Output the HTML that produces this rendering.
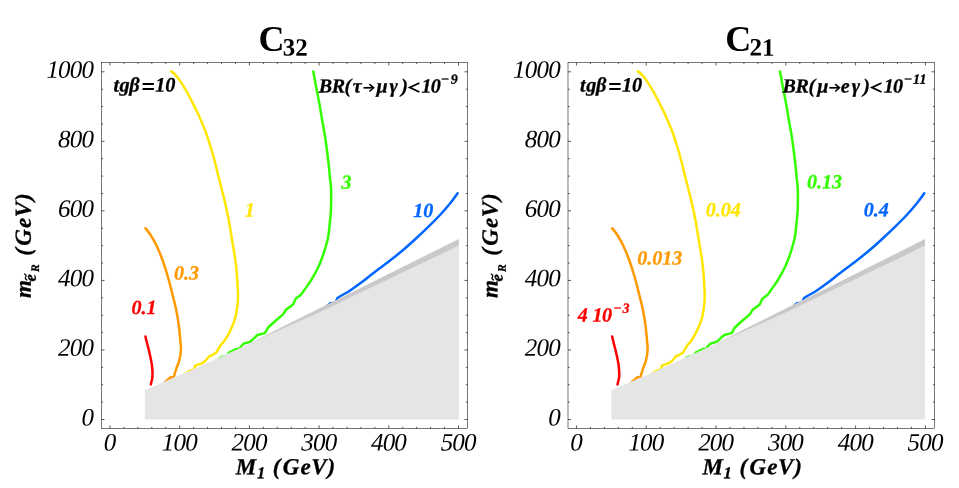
<!DOCTYPE html>
<html><head><meta charset="utf-8"><title>C32 C21</title>
<style>html,body{margin:0;padding:0;background:#fff}body{width:959px;height:488px;overflow:hidden;font-family:"Liberation Serif",serif}svg{display:block;will-change:transform;font-family:"Liberation Serif",serif}text{font-family:"Liberation Serif",serif}</style>
</head><body>
<svg width="959" height="488" viewBox="0 0 959 488">
<rect width="959" height="488" fill="#fff"/>
<g fill="none" stroke-width="2.5" stroke-linecap="round" stroke-linejoin="round">
<path stroke="#ffe600" d="M171.20 71.30C171.87 71.87 173.67 73.02 175.20 74.70C176.73 76.38 178.68 78.92 180.40 81.40C182.12 83.88 183.80 86.70 185.50 89.60C187.20 92.50 188.90 95.55 190.60 98.80C192.30 102.05 194.37 106.40 195.70 109.10C197.03 111.80 197.05 111.52 198.60 115.00C200.15 118.48 203.10 125.00 205.00 130.00C206.90 135.00 208.43 140.00 210.00 145.00C211.57 150.00 213.05 155.00 214.40 160.00C215.75 165.00 216.85 170.00 218.10 175.00C219.35 180.00 220.65 185.00 221.90 190.00C223.15 195.00 224.46 200.00 225.60 205.00C226.74 210.00 227.81 215.00 228.75 220.00C229.69 225.00 230.42 230.00 231.25 235.00C232.08 240.00 232.96 245.00 233.75 250.00C234.54 255.00 235.42 260.00 236.00 265.00C236.58 270.00 236.92 275.00 237.25 280.00C237.58 285.00 237.96 290.83 238.00 295.00C238.04 299.17 238.00 301.04 237.50 305.00C237.00 308.96 236.25 314.38 235.00 318.75C233.75 323.12 231.67 327.71 230.00 331.25C228.33 334.79 226.67 337.50 225.00 340.00C223.33 342.50 221.46 344.17 220.00 346.25C218.54 348.33 217.50 351.04 216.25 352.50L212.50 355.00L209.40 356.25L205.00 361.25L202.50 363.10L195.00 365.60L194.60 369.40L190.00 370.60L184.40 374.50L180.00 378.00"/>
<path stroke="#ff9900" d="M145.50 228.20C146.35 229.33 148.81 232.20 150.60 235.00C152.39 237.80 154.27 240.83 156.25 245.00C158.23 249.17 160.53 254.58 162.50 260.00C164.47 265.42 166.42 271.67 168.10 277.50C169.78 283.33 171.24 289.58 172.60 295.00C173.96 300.42 175.22 305.00 176.25 310.00C177.28 315.00 178.08 320.00 178.75 325.00C179.42 330.00 179.89 335.83 180.25 340.00C180.61 344.17 181.04 346.67 180.90 350.00C180.76 353.33 180.18 356.88 179.40 360.00C178.62 363.12 177.19 365.93 176.25 368.75L173.75 376.90L170.60 377.25L165.50 381.70L163.00 384.50"/>
<path stroke="#ff0000" d="M145.45 336.50C145.58 337.08 145.59 337.33 146.25 340.00C146.91 342.67 148.46 348.33 149.40 352.50C150.34 356.67 151.38 361.04 151.90 365.00C152.42 368.96 152.68 373.02 152.50 376.25C152.32 379.48 151.08 383.04 150.80 384.40"/>
<path stroke="#33ff00" d="M313.30 71.50C313.79 74.17 315.23 82.12 316.25 87.50C317.27 92.88 318.42 98.33 319.40 103.75C320.38 109.17 321.17 114.58 322.10 120.00C323.03 125.42 324.14 130.83 325.00 136.25C325.86 141.67 326.58 147.29 327.25 152.50C327.92 157.71 328.56 163.33 329.00 167.50C329.44 171.67 329.57 174.17 329.90 177.50C330.23 180.83 330.78 183.75 331.00 187.50C331.22 191.25 331.23 195.83 331.20 200.00C331.17 204.17 331.07 208.33 330.80 212.50C330.53 216.67 329.98 221.25 329.60 225.00C329.22 228.75 328.95 232.08 328.50 235.00C328.05 237.92 327.80 239.17 326.90 242.50C326.00 245.83 324.57 250.83 323.10 255.00C321.63 259.17 320.08 263.33 318.10 267.50C316.12 271.67 313.43 276.42 311.25 280.00C309.07 283.58 306.67 286.60 305.00 289.00L301.25 294.40L295.60 298.75L293.10 304.40L286.25 309.40L283.10 314.40L275.00 321.25L268.10 327.50L265.00 333.10L257.50 335.00L250.00 341.90L243.75 343.50L240.60 347.00L239.30 350.30L237.60 348.70L233.00 350.50L229.00 352.70L227.30 355.50L224.50 356.30L221.00 357.30L218.00 359.50L215.00 362.00"/>
<path stroke="#0066ff" d="M457.60 193.20C456.33 194.92 452.93 199.87 450.00 203.50C447.07 207.13 443.75 210.97 440.00 215.00C436.25 219.03 431.77 223.53 427.50 227.70C423.23 231.87 418.47 236.28 414.40 240.00C410.33 243.72 407.17 246.57 403.10 250.00C399.03 253.43 394.17 257.33 390.00 260.60C385.83 263.87 381.07 267.37 378.10 269.60C375.13 271.83 374.88 271.92 372.20 274.00C369.52 276.08 365.80 279.27 362.00 282.10C358.20 284.93 353.53 288.32 349.40 291.00C345.27 293.68 339.45 296.33 337.20 298.20L335.90 302.20L332.80 303.10L330.00 303.30L327.50 305.60L324.00 309.00"/>
</g>
<polygon fill="#c9c9c9" points="250.00,343.20 280.00,328.10 310.00,313.10 360.00,288.20 410.00,263.30 458.90,239.00 458.90,250.00 250.00,346.00"/>
<polygon fill="#e5e5e5" points="144.80,390.30 200.00,366.30 260.00,338.80 310.00,316.60 324.40,310.00 360.00,292.80 386.90,280.00 410.00,268.75 429.40,259.80 458.90,245.60 458.90,419.40 144.80,419.40"/>
<rect x="101.50" y="62.50" width="366.00" height="365.90" fill="none" stroke="#000" stroke-width="0.53"/>
<path d="M110.00 428.40v-3.00M110.00 62.50v3.00M123.94 428.40v-1.60M123.94 62.50v1.60M137.88 428.40v-1.60M137.88 62.50v1.60M151.82 428.40v-1.60M151.82 62.50v1.60M165.76 428.40v-1.60M165.76 62.50v1.60M179.70 428.40v-3.00M179.70 62.50v3.00M193.64 428.40v-1.60M193.64 62.50v1.60M207.58 428.40v-1.60M207.58 62.50v1.60M221.52 428.40v-1.60M221.52 62.50v1.60M235.46 428.40v-1.60M235.46 62.50v1.60M249.40 428.40v-3.00M249.40 62.50v3.00M263.34 428.40v-1.60M263.34 62.50v1.60M277.28 428.40v-1.60M277.28 62.50v1.60M291.22 428.40v-1.60M291.22 62.50v1.60M305.16 428.40v-1.60M305.16 62.50v1.60M319.10 428.40v-3.00M319.10 62.50v3.00M333.04 428.40v-1.60M333.04 62.50v1.60M346.98 428.40v-1.60M346.98 62.50v1.60M360.92 428.40v-1.60M360.92 62.50v1.60M374.86 428.40v-1.60M374.86 62.50v1.60M388.80 428.40v-3.00M388.80 62.50v3.00M402.74 428.40v-1.60M402.74 62.50v1.60M416.68 428.40v-1.60M416.68 62.50v1.60M430.62 428.40v-1.60M430.62 62.50v1.60M444.56 428.40v-1.60M444.56 62.50v1.60M458.50 428.40v-3.00M458.50 62.50v3.00M101.50 419.50h3.00M467.50 419.50h-3.00M101.50 402.12h1.60M467.50 402.12h-1.60M101.50 384.73h1.60M467.50 384.73h-1.60M101.50 367.35h1.60M467.50 367.35h-1.60M101.50 349.96h3.00M467.50 349.96h-3.00M101.50 332.57h1.60M467.50 332.57h-1.60M101.50 315.19h1.60M467.50 315.19h-1.60M101.50 297.81h1.60M467.50 297.81h-1.60M101.50 280.42h3.00M467.50 280.42h-3.00M101.50 263.03h1.60M467.50 263.03h-1.60M101.50 245.65h1.60M467.50 245.65h-1.60M101.50 228.26h1.60M467.50 228.26h-1.60M101.50 210.88h3.00M467.50 210.88h-3.00M101.50 193.50h1.60M467.50 193.50h-1.60M101.50 176.11h1.60M467.50 176.11h-1.60M101.50 158.72h1.60M467.50 158.72h-1.60M101.50 141.34h3.00M467.50 141.34h-3.00M101.50 123.95h1.60M467.50 123.95h-1.60M101.50 106.57h1.60M467.50 106.57h-1.60M101.50 89.19h1.60M467.50 89.19h-1.60M101.50 71.80h3.00M467.50 71.80h-3.00" stroke="#000" stroke-width="0.65" fill="none"/>
<g font-style="italic" font-size="25" letter-spacing="-0.8">
<text x="109.70" y="450.6" text-anchor="middle" transform="rotate(0.05 109.70 450.6)">0</text>
<text x="179.40" y="450.6" text-anchor="middle" transform="rotate(0.05 179.40 450.6)">100</text>
<text x="249.10" y="450.6" text-anchor="middle" transform="rotate(0.05 249.10 450.6)">200</text>
<text x="318.80" y="450.6" text-anchor="middle" transform="rotate(0.05 318.80 450.6)">300</text>
<text x="388.50" y="450.6" text-anchor="middle" transform="rotate(0.05 388.50 450.6)">400</text>
<text x="458.20" y="450.6" text-anchor="middle" transform="rotate(0.05 458.20 450.6)">500</text>
<text x="93.20" y="425.40" text-anchor="end" transform="rotate(0.05 93.20 425.40)">0</text>
<text x="93.20" y="355.86" text-anchor="end" transform="rotate(0.05 93.20 355.86)">200</text>
<text x="93.20" y="286.32" text-anchor="end" transform="rotate(0.05 93.20 286.32)">400</text>
<text x="93.20" y="216.78" text-anchor="end" transform="rotate(0.05 93.20 216.78)">600</text>
<text x="93.20" y="147.24" text-anchor="end" transform="rotate(0.05 93.20 147.24)">800</text>
<text x="93.20" y="77.70" text-anchor="end" transform="rotate(0.05 93.20 77.70)">1000</text>
</g>
<text x="258.60" y="50.8" font-weight="bold" font-size="36" transform="rotate(0.05 258.60 51)">C<tspan font-size="25" dy="4.8" dx="-1.8">32</tspan></text>
<g font-weight="bold" font-style="italic" stroke="#000" stroke-width="0.3">
<text x="235.71" y="474.30" font-size="23" transform="rotate(0.05 235.71 474.30)">M</text>
<text x="256.92" y="478.20" font-size="16.5" transform="rotate(0.05 256.92 478.20)">1</text>
<text x="272.81 282.83 300.58 311.18 327.57" y="474.30" font-size="23" transform="rotate(0.05 272.81 474.30)">(GeV)</text>
<g transform="translate(30.70,298) rotate(-90)"><text x="-0.01" y="0.00" font-size="23" transform="rotate(0.05 -0.01 0.00)">m</text><text x="16.48" y="5.10" font-size="16.5" transform="rotate(0.05 16.48 5.10)">e</text><path d="M18 -3.8q1.3 -2.4 3 -1.2t3 -1.2" stroke="#000" stroke-width="1.3" fill="none" stroke-linecap="round"/><text x="26.09" y="8.30" font-size="11.5" transform="rotate(0.05 26.09 8.30)">R</text><text x="42.31 52.33 70.08 80.68 97.07" y="0.00" font-size="23" transform="rotate(0.05 42.31 0.00)">(GeV)</text></g>
<text x="113.42 119.58 129.32 155.31 165.30" y="91.50" font-size="20.3" transform="rotate(0.05 113.42 91.50)">tgβ10</text>
<path d="M142.60 83h11.3v2h-11.3zM142.60 88h11.3v2h-11.3z" stroke="none"/>
<text x="318.74 331.78 344.38 352.70" y="92.40" font-size="20" transform="rotate(0.05 318.74 92.40)">BR(τ</text><path d="M363.50 87.80H373.20" stroke="#000" stroke-width="1.7" fill="none"/><path d="M369.40 84.10L373.60 87.80L369.40 91.50" stroke="#000" stroke-width="1.6" fill="none" stroke-linejoin="miter"/><text x="376.59 389.39 401.21 421.48 430.83" y="92.40" font-size="20" transform="rotate(0.05 376.59 92.40)">μγ)10</text><text x="440.84 450.72" y="83.80" font-size="14" transform="rotate(0.05 440.84 83.80)">−9</text><path d="M419.40 83L409.80 87.5L419.40 92" fill="none" stroke="#000" stroke-width="1.9" stroke-linejoin="miter"/>
<text x="131.60" y="314.10" font-size="20" fill="#ff0000" stroke="#ff0000" transform="rotate(0.05 131.60 314.10)">0.1</text>
<text x="174.10" y="279.40" font-size="20" fill="#ff9900" stroke="#ff9900" transform="rotate(0.05 174.10 279.40)">0.3</text>
<text x="244.70" y="216.50" font-size="20" fill="#ffe600" stroke="#ffe600" transform="rotate(0.05 244.70 216.50)">1</text>
<text x="341.60" y="188.75" font-size="20" fill="#33ff00" stroke="#33ff00" transform="rotate(0.05 341.60 188.75)">3</text>
<text x="413.30" y="216.90" font-size="20" fill="#0066ff" stroke="#0066ff" transform="rotate(0.05 413.30 216.90)">10</text>
</g>
<g fill="none" stroke-width="2.5" stroke-linecap="round" stroke-linejoin="round">
<path stroke="#ffe600" d="M637.90 71.30C638.57 71.87 640.37 73.02 641.90 74.70C643.43 76.38 645.38 78.92 647.10 81.40C648.82 83.88 650.50 86.70 652.20 89.60C653.90 92.50 655.60 95.55 657.30 98.80C659.00 102.05 661.07 106.40 662.40 109.10C663.73 111.80 663.75 111.52 665.30 115.00C666.85 118.48 669.80 125.00 671.70 130.00C673.60 135.00 675.13 140.00 676.70 145.00C678.27 150.00 679.75 155.00 681.10 160.00C682.45 165.00 683.55 170.00 684.80 175.00C686.05 180.00 687.35 185.00 688.60 190.00C689.85 195.00 691.16 200.00 692.30 205.00C693.44 210.00 694.51 215.00 695.45 220.00C696.39 225.00 697.12 230.00 697.95 235.00C698.78 240.00 699.66 245.00 700.45 250.00C701.24 255.00 702.12 260.00 702.70 265.00C703.28 270.00 703.62 275.00 703.95 280.00C704.28 285.00 704.66 290.83 704.70 295.00C704.74 299.17 704.70 301.04 704.20 305.00C703.70 308.96 702.95 314.38 701.70 318.75C700.45 323.12 698.37 327.71 696.70 331.25C695.03 334.79 693.37 337.50 691.70 340.00C690.03 342.50 688.16 344.17 686.70 346.25C685.24 348.33 684.20 351.04 682.95 352.50L679.20 355.00L676.10 356.25L671.70 361.25L669.20 363.10L661.70 365.60L661.30 369.40L656.70 370.60L651.10 374.50L646.70 378.00"/>
<path stroke="#ff9900" d="M612.20 228.20C613.05 229.33 615.51 232.20 617.30 235.00C619.09 237.80 620.97 240.83 622.95 245.00C624.93 249.17 627.23 254.58 629.20 260.00C631.18 265.42 633.12 271.67 634.80 277.50C636.48 283.33 637.94 289.58 639.30 295.00C640.66 300.42 641.93 305.00 642.95 310.00C643.98 315.00 644.78 320.00 645.45 325.00C646.12 330.00 646.59 335.83 646.95 340.00C647.31 344.17 647.74 346.67 647.60 350.00C647.46 353.33 646.88 356.88 646.10 360.00C645.33 363.12 643.89 365.93 642.95 368.75L640.45 376.90L637.30 377.25L632.20 381.70L629.70 384.50"/>
<path stroke="#ff0000" d="M612.15 336.50C612.28 337.08 612.29 337.33 612.95 340.00C613.61 342.67 615.16 348.33 616.10 352.50C617.04 356.67 618.08 361.04 618.60 365.00C619.12 368.96 619.38 373.02 619.20 376.25C619.02 379.48 617.78 383.04 617.50 384.40"/>
<path stroke="#33ff00" d="M780.00 71.50C780.49 74.17 781.93 82.12 782.95 87.50C783.97 92.88 785.12 98.33 786.10 103.75C787.07 109.17 787.87 114.58 788.80 120.00C789.73 125.42 790.84 130.83 791.70 136.25C792.56 141.67 793.28 147.29 793.95 152.50C794.62 157.71 795.26 163.33 795.70 167.50C796.14 171.67 796.27 174.17 796.60 177.50C796.93 180.83 797.48 183.75 797.70 187.50C797.92 191.25 797.93 195.83 797.90 200.00C797.87 204.17 797.77 208.33 797.50 212.50C797.23 216.67 796.68 221.25 796.30 225.00C795.92 228.75 795.65 232.08 795.20 235.00C794.75 237.92 794.50 239.17 793.60 242.50C792.70 245.83 791.27 250.83 789.80 255.00C788.33 259.17 786.77 263.33 784.80 267.50C782.82 271.67 780.13 276.42 777.95 280.00C775.77 283.58 773.37 286.60 771.70 289.00L767.95 294.40L762.30 298.75L759.80 304.40L752.95 309.40L749.80 314.40L741.70 321.25L734.80 327.50L731.70 333.10L724.20 335.00L716.70 341.90L710.45 343.50L707.30 347.00L706.00 350.30L704.30 348.70L699.70 350.50L695.70 352.70L694.00 355.50L691.20 356.30L687.70 357.30L684.70 359.50L681.70 362.00"/>
<path stroke="#0066ff" d="M924.30 193.20C923.03 194.92 919.63 199.87 916.70 203.50C913.77 207.13 910.45 210.97 906.70 215.00C902.95 219.03 898.47 223.53 894.20 227.70C889.93 231.87 885.17 236.28 881.10 240.00C877.03 243.72 873.87 246.57 869.80 250.00C865.73 253.43 860.87 257.33 856.70 260.60C852.53 263.87 847.77 267.37 844.80 269.60C841.83 271.83 841.58 271.92 838.90 274.00C836.22 276.08 832.50 279.27 828.70 282.10C824.90 284.93 820.23 288.32 816.10 291.00C811.97 293.68 806.15 296.33 803.90 298.20L802.60 302.20L799.50 303.10L796.70 303.30L794.20 305.60L790.70 309.00"/>
</g>
<polygon fill="#c9c9c9" points="716.70,343.20 746.70,328.10 776.70,313.10 826.70,288.20 876.70,263.30 925.00,239.00 925.00,250.00 716.70,346.00"/>
<polygon fill="#e5e5e5" points="611.50,390.30 666.70,366.30 726.70,338.80 776.70,316.60 791.10,310.00 826.70,292.80 853.60,280.00 876.70,268.75 896.10,259.80 925.00,245.60 925.00,419.40 611.50,419.40"/>
<rect x="568.00" y="62.50" width="366.50" height="365.90" fill="none" stroke="#000" stroke-width="0.53"/>
<path d="M576.45 428.40v-3.00M576.45 62.50v3.00M590.41 428.40v-1.60M590.41 62.50v1.60M604.37 428.40v-1.60M604.37 62.50v1.60M618.32 428.40v-1.60M618.32 62.50v1.60M632.28 428.40v-1.60M632.28 62.50v1.60M646.24 428.40v-3.00M646.24 62.50v3.00M660.20 428.40v-1.60M660.20 62.50v1.60M674.16 428.40v-1.60M674.16 62.50v1.60M688.11 428.40v-1.60M688.11 62.50v1.60M702.07 428.40v-1.60M702.07 62.50v1.60M716.03 428.40v-3.00M716.03 62.50v3.00M729.99 428.40v-1.60M729.99 62.50v1.60M743.95 428.40v-1.60M743.95 62.50v1.60M757.90 428.40v-1.60M757.90 62.50v1.60M771.86 428.40v-1.60M771.86 62.50v1.60M785.82 428.40v-3.00M785.82 62.50v3.00M799.78 428.40v-1.60M799.78 62.50v1.60M813.74 428.40v-1.60M813.74 62.50v1.60M827.69 428.40v-1.60M827.69 62.50v1.60M841.65 428.40v-1.60M841.65 62.50v1.60M855.61 428.40v-3.00M855.61 62.50v3.00M869.57 428.40v-1.60M869.57 62.50v1.60M883.53 428.40v-1.60M883.53 62.50v1.60M897.48 428.40v-1.60M897.48 62.50v1.60M911.44 428.40v-1.60M911.44 62.50v1.60M925.40 428.40v-3.00M925.40 62.50v3.00M568.00 419.50h3.00M934.50 419.50h-3.00M568.00 402.12h1.60M934.50 402.12h-1.60M568.00 384.73h1.60M934.50 384.73h-1.60M568.00 367.35h1.60M934.50 367.35h-1.60M568.00 349.96h3.00M934.50 349.96h-3.00M568.00 332.57h1.60M934.50 332.57h-1.60M568.00 315.19h1.60M934.50 315.19h-1.60M568.00 297.81h1.60M934.50 297.81h-1.60M568.00 280.42h3.00M934.50 280.42h-3.00M568.00 263.03h1.60M934.50 263.03h-1.60M568.00 245.65h1.60M934.50 245.65h-1.60M568.00 228.26h1.60M934.50 228.26h-1.60M568.00 210.88h3.00M934.50 210.88h-3.00M568.00 193.50h1.60M934.50 193.50h-1.60M568.00 176.11h1.60M934.50 176.11h-1.60M568.00 158.72h1.60M934.50 158.72h-1.60M568.00 141.34h3.00M934.50 141.34h-3.00M568.00 123.95h1.60M934.50 123.95h-1.60M568.00 106.57h1.60M934.50 106.57h-1.60M568.00 89.19h1.60M934.50 89.19h-1.60M568.00 71.80h3.00M934.50 71.80h-3.00" stroke="#000" stroke-width="0.65" fill="none"/>
<g font-style="italic" font-size="25" letter-spacing="-0.8">
<text x="576.15" y="450.6" text-anchor="middle" transform="rotate(0.05 576.15 450.6)">0</text>
<text x="645.94" y="450.6" text-anchor="middle" transform="rotate(0.05 645.94 450.6)">100</text>
<text x="715.73" y="450.6" text-anchor="middle" transform="rotate(0.05 715.73 450.6)">200</text>
<text x="785.52" y="450.6" text-anchor="middle" transform="rotate(0.05 785.52 450.6)">300</text>
<text x="855.31" y="450.6" text-anchor="middle" transform="rotate(0.05 855.31 450.6)">400</text>
<text x="925.10" y="450.6" text-anchor="middle" transform="rotate(0.05 925.10 450.6)">500</text>
<text x="559.90" y="425.40" text-anchor="end" transform="rotate(0.05 559.90 425.40)">0</text>
<text x="559.90" y="355.86" text-anchor="end" transform="rotate(0.05 559.90 355.86)">200</text>
<text x="559.90" y="286.32" text-anchor="end" transform="rotate(0.05 559.90 286.32)">400</text>
<text x="559.90" y="216.78" text-anchor="end" transform="rotate(0.05 559.90 216.78)">600</text>
<text x="559.90" y="147.24" text-anchor="end" transform="rotate(0.05 559.90 147.24)">800</text>
<text x="559.90" y="77.70" text-anchor="end" transform="rotate(0.05 559.90 77.70)">1000</text>
</g>
<text x="725.30" y="50.8" font-weight="bold" font-size="36" transform="rotate(0.05 725.30 51)">C<tspan font-size="25" dy="4.8" dx="-1.8">21</tspan></text>
<g font-weight="bold" font-style="italic" stroke="#000" stroke-width="0.3">
<text x="702.41" y="474.30" font-size="23" transform="rotate(0.05 702.41 474.30)">M</text>
<text x="723.62" y="478.20" font-size="16.5" transform="rotate(0.05 723.62 478.20)">1</text>
<text x="739.51 749.53 767.28 777.88 794.27" y="474.30" font-size="23" transform="rotate(0.05 739.51 474.30)">(GeV)</text>
<g transform="translate(497.40,298) rotate(-90)"><text x="-0.01" y="0.00" font-size="23" transform="rotate(0.05 -0.01 0.00)">m</text><text x="16.48" y="5.10" font-size="16.5" transform="rotate(0.05 16.48 5.10)">e</text><path d="M18 -3.8q1.3 -2.4 3 -1.2t3 -1.2" stroke="#000" stroke-width="1.3" fill="none" stroke-linecap="round"/><text x="26.09" y="8.30" font-size="11.5" transform="rotate(0.05 26.09 8.30)">R</text><text x="42.31 52.33 70.08 80.68 97.07" y="0.00" font-size="23" transform="rotate(0.05 42.31 0.00)">(GeV)</text></g>
<text x="580.12 586.28 596.02 622.01 632.00" y="91.50" font-size="20.3" transform="rotate(0.05 580.12 91.50)">tgβ10</text>
<path d="M609.30 83h11.3v2h-11.3zM609.30 88h11.3v2h-11.3z" stroke="none"/>
<text x="782.59 795.58 808.43 817.19" y="92.40" font-size="20" transform="rotate(0.05 782.59 92.40)">BR(μ</text><path d="M829.30 87.80H839.00" stroke="#000" stroke-width="1.7" fill="none"/><path d="M835.20 84.10L839.40 87.80L835.20 91.50" stroke="#000" stroke-width="1.6" fill="none" stroke-linejoin="miter"/><text x="840.85 851.79 863.31 883.68 892.93" y="92.40" font-size="20" transform="rotate(0.05 840.85 92.40)">eγ)10</text><text x="903.69 912.89 919.54" y="83.80" font-size="14" transform="rotate(0.05 903.69 83.80)">−11</text><path d="M881.60 83L872.00 87.5L881.60 92" fill="none" stroke="#000" stroke-width="1.9" stroke-linejoin="miter"/>
<text x="577.81 592.48 602.03" y="321.60" font-size="20" fill="#ff0000" stroke="#ff0000" transform="rotate(0.05 577.81 321.60)">410</text>
<text x="613.34 622.49" y="312.80" font-size="14" fill="#ff0000" stroke="#ff0000" transform="rotate(0.05 613.34 312.80)">−3</text>
<text x="637.30" y="264.40" font-size="20" fill="#ff9900" stroke="#ff9900" transform="rotate(0.05 637.30 264.40)">0.013</text>
<text x="705.70" y="216.25" font-size="20" fill="#ffe600" stroke="#ffe600" transform="rotate(0.05 705.70 216.25)">0.04</text>
<text x="807.00" y="188.25" font-size="20" fill="#33ff00" stroke="#33ff00" transform="rotate(0.05 807.00 188.25)">0.13</text>
<text x="863.70" y="216.25" font-size="20" fill="#0066ff" stroke="#0066ff" transform="rotate(0.05 863.70 216.25)">0.4</text>
</g>
</svg>
</body></html>
